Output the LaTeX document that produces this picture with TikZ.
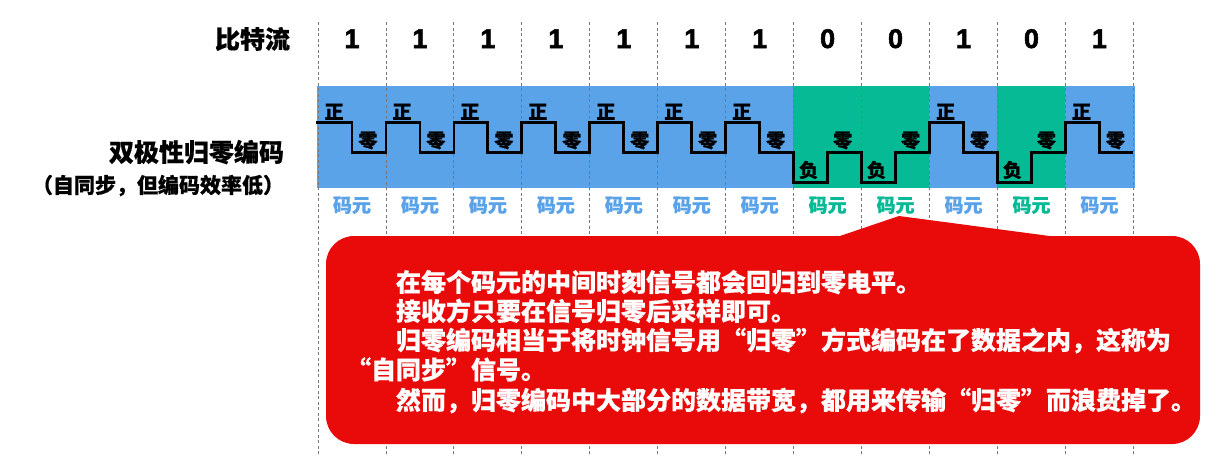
\documentclass[tikz,border=0pt]{standalone}
\usepackage{fontspec}
\setmainfont{Liberation Sans}
\newfontfamily\cjk{Noto Sans CJK SC}[BoldFeatures={FakeBold=0.6}]
\newfontfamily\digitfont{Liberation Sans}[BoldFeatures={FakeBold=2}]
\definecolor{bandblue}{RGB}{91,163,233}
\definecolor{bandgreen}{RGB}{6,186,150}
\definecolor{calloutred}{RGB}{233,10,10}
\definecolor{dashgray}{RGB}{120,120,120}
\begin{document}
\begin{tikzpicture}[x=1pt,y=-1pt,
  txt/.style={inner sep=0pt, outer sep=0pt},
  bitlabel/.style={txt, anchor=base, font=\digitfont\fontsize{27}{30}\selectfont\bfseries},
  lvllabel/.style={txt, anchor=base, font=\cjk\fontsize{19}{21}\selectfont\bfseries},
  cellbox/.style={txt, anchor=base, font=\cjk\fontsize{19}{21}\selectfont\bfseries},
  sidebig/.style={txt, anchor=base east, font=\cjk\fontsize{25}{28}\selectfont\bfseries},
  sidesmall/.style={txt, anchor=base east, font=\cjk\fontsize{21}{24}\selectfont\bfseries},
  calltext/.style={txt, anchor=base west, text=white, font=\cjk\fontsize{25}{28}\selectfont\bfseries},
  grid/.style={dashgray, line width=0.9pt, dash pattern=on 3pt off 2.5pt},
  wave/.style={black, line width=2.8pt, line join=miter}]
\useasboundingbox (0,0) rectangle (1230,455);
\fill[white] (0,0) rectangle (1230,455);

% bands, bits and cell labels
\foreach \b [count=\i from 0] in {1,1,1,1,1,1,1,0,0,1,0,1} {
  \pgfmathsetmacro\L{318+67.95*\i}
  \pgfmathsetmacro\R{\L+67.95}
  \pgfmathsetmacro\M{\L+33.975}
  \ifnum\b=1 \def\col{bandblue}\else\def\col{bandgreen}\fi
  \fill[fill=\col] (\L-0.3,86) rectangle (\R+0.3,188);
  \node[bitlabel] (bit\i) at (\M,48) {\b};
  \node[cellbox, text=\col] (cell\i) at (\M,212.2) {码元};
}
\fill[bandblue] (316.5,86) rectangle (318.5,188);
\fill[bandblue] (1133,86) rectangle (1135,188);

% dashed separators
\foreach \i in {0,...,12} {
  \draw[grid] ({318+67.95*\i},22) -- ({318+67.95*\i},455);
}

% waveform
\draw[wave] (316,122.5)
  \foreach \b [count=\i from 0] in {1,1,1,1,1,1,1,0,0,1,0,1} {
    -- ({318+67.95*\i},{ifthenelse(\b==1,122.5,182.5)})
    -- ({318+67.95*\i+33.975},{ifthenelse(\b==1,122.5,182.5)})
    -- ({318+67.95*\i+33.975},152.5)
    -- ({318+67.95*(\i+1)},152.5)
  };

% level labels
\foreach \b [count=\i from 0] in {1,1,1,1,1,1,1,0,0,1,0,1} {
  \pgfmathsetmacro\L{318+67.95*\i}
  \ifnum\b=1
    \node[lvllabel] (pos\i) at (\L+16,118.7) {正};
    \node[lvllabel] (zero\i) at (\L+50,147.2) {零};
  \else
    \node[lvllabel] (neg\i) at (\L+15,177.2) {负};
    \node[lvllabel] (zero\i) at (\L+49,147.2) {零};
  \fi
}

% side labels
\node[sidebig] (lblbits) at (290,48.5) {比特流};
\node[sidebig] (lblcode) at (284,161.5) {双极性归零编码};
\node[sidesmall] (lblnote) at (284,193) {（自同步，但编码效率低）};

% callout
\fill[calloutred, rounded corners=28pt] (326,236) rectangle (1200,444);
\fill[calloutred] (837,237) -- (899,216) -- (1057,237) -- cycle;

\node[calltext] (t1) at (396,291.5) {在每个码元的中间时刻信号都会回归到零电平。};
\node[calltext] (t2) at (396,320.5) {接收方只要在信号归零后采样即可。};
\node[calltext] (t3) at (396,349.5) {归零编码相当于将时钟信号用“归零”方式编码在了数据之内，这称为};
\node[calltext] (t4) at (346,379) {“自同步”信号。};
\node[calltext] (t5) at (396,409.5) {然而，归零编码中大部分的数据带宽，都用来传输“归零”而浪费掉了。};
\end{tikzpicture}
\end{document}
